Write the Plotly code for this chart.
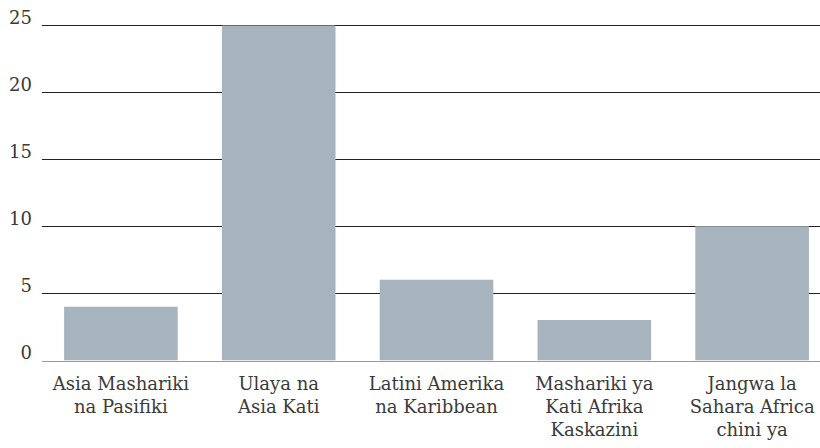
import plotly.graph_objects as go

categories = [
    "Asia Mashariki<br>na Pasifiki",
    "Ulaya na<br>Asia Kati",
    "Latini Amerika<br>na Karibbean",
    "Mashariki ya<br>Kati Afrika<br>Kaskazini",
    "Jangwa la<br>Sahara Africa<br>chini ya",
]
values = [4, 25, 6, 3, 10]
y_ticks = [0, 5, 10, 15, 20, 25]

FONT = "DejaVu Serif"
TXT = "#3a3a3a"

fig = go.Figure(
    go.Bar(
        x=list(range(len(categories))),
        y=values,
        marker=dict(color="#a8b4bd", line=dict(width=0)),
        width=0.72,
    )
)

fig.update_layout(
    width=820,
    height=448,
    margin=dict(l=42, r=0, t=12, b=87, autoexpand=False),
    paper_bgcolor="white",
    plot_bgcolor="white",
    showlegend=False,
    font=dict(family=FONT, size=18, color=TXT),
)

fig.update_xaxes(
    tickmode="array",
    tickvals=list(range(len(categories))),
    ticktext=categories,
    range=[-0.5, 4.43],
    showgrid=False,
    zeroline=False,
    showline=True,
    linecolor="#999999",
    linewidth=1,
    ticks="",
    automargin=False,
    ticklabelstandoff=6,
    tickfont=dict(family=FONT, size=18, color=TXT),
)

fig.update_yaxes(
    tickmode="array",
    tickvals=y_ticks,
    ticktext=[str(v) for v in y_ticks],
    range=[-0.06, 26],
    showgrid=True,
    gridcolor="#222222",
    gridwidth=1,
    zeroline=False,
    showline=False,
    ticks="",
    automargin=False,
    ticklabelshift=-8,
    ticklabelstandoff=9,
    tickfont=dict(family=FONT, size=18, color=TXT),
)

fig.write_html(
    "out.html",
    config={"displayModeBar": False},
    post_script="document.body.style.margin='0';document.body.style.overflow='hidden';",
)
